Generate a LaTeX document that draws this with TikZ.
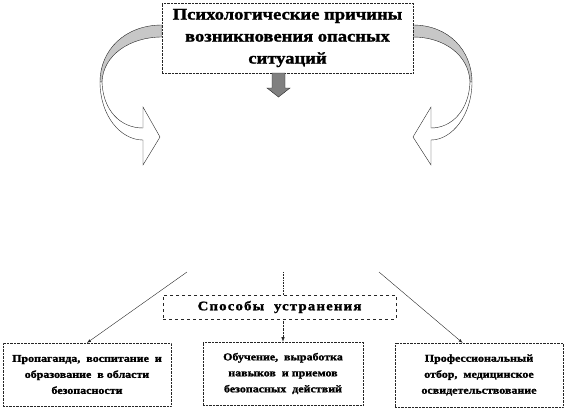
\documentclass[tikz,border=0pt]{standalone}
\usepackage{fontspec}
\setmainfont{Liberation Serif}[FakeStretch=1.12]
\newfontfamily\grosso{Liberation Serif}[FakeStretch=1.14, FakeBold=1.4]
\usepackage{tikz}
\newcommand{\corA}{black!22}
\newcommand{\corB}{white}
\newcommand{\corC}{black!50}
\newcommand{\corD}{black!85}

\begin{document}
\begin{tikzpicture}[x=1pt, y=-1pt, >=latex]
  \tikzset{
    caixa/.style={draw=\corD, densely dotted, fill=white, align=center, inner sep=2pt},
    caixatopo/.style={caixa, minimum width=251, minimum height=70, font=\grosso\bfseries\fontsize{16.3}{22}\selectfont},
    caixabaixo/.style={caixa, minimum height=63, font=\grosso\bfseries\fontsize{10.5}{16}\selectfont},
    seta/.style={->, thin, draw=\corD},
  }
  \useasboundingbox (0,0) rectangle (566,410);

          % item 0 seta curva esquerda
        \filldraw [fill= \corA, draw=\corD, thin]  (162,25) .. controls (125,25) and (100,50) .. (100,82) -- (102,82) .. controls (103,55) and (130,37) .. (162,37) -- cycle;
        \filldraw [fill= \corB, draw=\corD, thin]  (100,82) .. controls (100,115) and (120,140) .. (143,140) -- (143,165) -- (160,137) -- (143,107) -- (143,128) .. controls (120,128) and (103,110) .. (102,82) -- cycle;

          % item 1 seta curva direita
        \filldraw [fill= \corA, draw=\corD, thin]  (413,25) .. controls (448,25) and (472,50) .. (472,82) -- (470,82) .. controls (469,55) and (444,37) .. (413,37) -- cycle;
        \filldraw [fill= \corB, draw=\corD, thin]  (472,82) .. controls (472,115) and (452,140) .. (431,140) -- (431,165) -- (413,137) -- (431,107) -- (431,128) .. controls (452,128) and (469,110) .. (470,82) -- cycle;

          % item 2 titulo
        \node[caixatopo] (titulo) at (287.5,38) {Психологические причины\\возникновения опасных\\ситуаций};

          % item 3 seta cinza
        \filldraw [fill= \corC, draw=\corD, thin]  (272,73) -- (285,73) -- (285,88) -- (290,88) -- (278.5,97) -- (267,88) -- (272,88) -- cycle;

          % item 4 caixas de baixo
        \node[caixa, dashed, minimum width=233, minimum height=24, font=\grosso\bfseries\fontsize{13}{15}\selectfont\addfontfeature{LetterSpace=9}] (spos) at (279.5,307) {Способы\ \ устранения};
        \node[caixabaixo, minimum width=168] (esq) at (87,374.5) {Пропаганда,\ \ воспитание\ \ и\\образование\ \ в области\\безопасности};
        \node[caixabaixo, minimum width=160] (meio) at (283,373.5) {Обучение,\ \ выработка\\навыков\ \ и приемов\\безопасных\ \ действий};
        \node[caixabaixo, minimum width=168, minimum height=64] (dir) at (479,375) {Профессиональный\\отбор,\ \ медицинское\\освидетельствование};

          % item 5 ligacoes
        \coordinate (c1) at (187,272);
        \coordinate (c2) at (283,272);
        \coordinate (c3) at (379,272);
        \draw[seta] (c1) -- (esq.north);
        \draw[densely dotted, semithick, draw=\corD] (c2) -- (spos.north -| c2);
        \draw[seta, densely dotted, semithick] (spos.south -| c2) -- (meio.north);
        \draw[seta] (c3) -- (dir.117);
\end{tikzpicture}
\end{document}
